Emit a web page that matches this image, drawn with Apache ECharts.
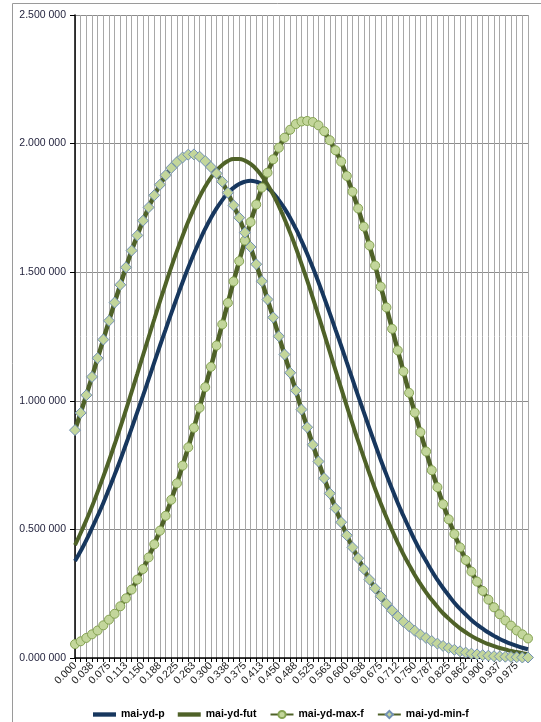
<!DOCTYPE html>
<html>
<head>
<meta charset="utf-8">
<script src="https://cdn.jsdelivr.net/npm/echarts@6/dist/echarts.min.js"></script>
<style>
html,body{margin:0;padding:0;background:#fff;}
#chart{width:541px;height:722px;}
</style>
</head>
<body>
<div id="chart"></div>
<script>
// x categories: 0.000 .. 1.000 step 0.0125 (81 points)
var categories = [];
for (var k = 0; k <= 80; k++) categories.push((k * 0.0125).toFixed(4));

// tick labels shown every 3rd category
var xTickLabels = ['0.000','0.038','0.075','0.113','0.150','0.188','0.225','0.263','0.300','0.338','0.375','0.413','0.450','0.488','0.525','0.563','0.600','0.638','0.675','0.712','0.750','0.787','0.825','0.862','0.900','0.937','0.975'];
var yTickLabels = ['0.000 000','0.500 000','1.000 000','1.500 000','2.000 000','2.500 000'];

var seriesNames = ['mai-yd-p','mai-yd-fut','mai-yd-max-f','mai-yd-min-f'];

var ydP = [0.377,0.416,0.458,0.505,0.553,0.603,0.657,0.713,0.770,0.831,0.893,0.956,1.019,1.084,1.149,1.214,1.277,1.340,1.401,1.461,1.518,1.572,1.622,1.669,1.711,1.748,1.780,1.808,1.828,1.843,1.852,1.856,1.852,1.843,1.828,1.808,1.780,1.748,1.711,1.669,1.622,1.572,1.518,1.461,1.401,1.340,1.277,1.214,1.149,1.084,1.019,0.956,0.893,0.831,0.770,0.713,0.657,0.603,0.553,0.505,0.458,0.416,0.377,0.339,0.304,0.272,0.243,0.215,0.191,0.169,0.148,0.130,0.114,0.099,0.086,0.074,0.064,0.055,0.047,0.040,0.034];

var ydFut = [0.439,0.486,0.536,0.589,0.646,0.705,0.767,0.831,0.897,0.965,1.035,1.105,1.176,1.247,1.317,1.387,1.454,1.520,1.582,1.641,1.697,1.747,1.793,1.833,1.868,1.896,1.917,1.932,1.940,1.940,1.934,1.921,1.901,1.874,1.841,1.802,1.757,1.707,1.653,1.595,1.532,1.468,1.400,1.331,1.261,1.190,1.119,1.049,0.979,0.911,0.844,0.780,0.717,0.657,0.601,0.547,0.496,0.448,0.403,0.362,0.323,0.288,0.255,0.226,0.199,0.174,0.153,0.133,0.115,0.100,0.086,0.074,0.063,0.054,0.046,0.039,0.033,0.027,0.023,0.019,0.016];

var ydMaxF = [0.054,0.065,0.078,0.092,0.107,0.127,0.149,0.172,0.201,0.232,0.266,0.305,0.346,0.391,0.442,0.495,0.553,0.615,0.679,0.748,0.819,0.895,0.973,1.053,1.132,1.215,1.297,1.381,1.464,1.543,1.623,1.695,1.763,1.829,1.887,1.939,1.984,2.023,2.054,2.076,2.086,2.088,2.084,2.071,2.048,2.013,1.974,1.930,1.874,1.813,1.748,1.677,1.604,1.526,1.444,1.363,1.280,1.196,1.114,1.031,0.954,0.878,0.803,0.730,0.664,0.598,0.539,0.482,0.430,0.381,0.336,0.297,0.261,0.227,0.197,0.170,0.146,0.126,0.107,0.092,0.076];

var ydMinF = [0.886,0.953,1.022,1.093,1.166,1.238,1.311,1.382,1.451,1.519,1.584,1.643,1.700,1.752,1.799,1.840,1.877,1.905,1.928,1.946,1.957,1.958,1.949,1.932,1.909,1.884,1.852,1.809,1.760,1.712,1.654,1.598,1.531,1.465,1.394,1.324,1.251,1.180,1.109,1.040,0.966,0.897,0.829,0.764,0.699,0.640,0.582,0.528,0.477,0.430,0.388,0.346,0.305,0.271,0.240,0.211,0.185,0.162,0.141,0.123,0.106,0.091,0.078,0.066,0.056,0.047,0.039,0.032,0.026,0.021,0.017,0.014,0.011,0.009,0.007,0.006,0.005,0.004,0.003,0.002,0.002];

var chart = echarts.init(document.getElementById('chart'), null, {renderer:'canvas'});
var FONT = 'Liberation Sans, Arial, sans-serif';
var lineIcon = 'path://M0,0L100,0L100,19L0,19Z';
var option = {
  backgroundColor: '#ffffff',
  animation: false,
  graphic: [{
    type: 'rect', silent: true, z: -10,
    shape: {x: 12.5, y: 3.5, width: 700, height: 900},
    style: {fill: 'none', stroke: '#9a9a9a', lineWidth: 1}
  }],
  grid: {left: 75, right: 13, top: 15, bottom: 64, containLabel: false},
  legend: {
    top: 704, left: 88,
    itemWidth: 23, itemHeight: 9, itemGap: 13,
    textStyle: {fontFamily: FONT, fontSize: 10.5, fontWeight: 'bold', color: '#000'},
    data: [
      {name: seriesNames[0], icon: lineIcon},
      {name: seriesNames[1], icon: lineIcon},
      {name: seriesNames[2]},
      {name: seriesNames[3]}
    ]
  },
  xAxis: {
    type: 'category', boundaryGap: false, data: categories,
    axisLine: {show: true, lineStyle: {color: '#000', width: 1.5}},
    axisTick: {show: true, interval: 0, length: 4, lineStyle: {color: '#000'}},
    axisLabel: {
      interval: 2, rotate: 45, margin: 6,
      fontFamily: FONT, fontSize: 10.5, color: '#1a1a1a',
      formatter: function (v, i) { return xTickLabels[Math.round(i / 3)] || ''; }
    },
    splitLine: {show: true, interval: 0, lineStyle: {color: '#a8a8a8', width: 1}}
  },
  yAxis: {
    type: 'value', min: 0, max: 2.5, interval: 0.5,
    axisLine: {show: true, lineStyle: {color: '#000', width: 1.5}},
    axisTick: {show: true, length: 5, lineStyle: {color: '#000'}},
    axisLabel: {
      margin: 9, fontFamily: FONT, fontSize: 10.5, color: '#1f1f3a',
      formatter: function (v) { return yTickLabels[Math.round(v / 0.5)]; }
    },
    splitLine: {show: true, lineStyle: {color: '#8c8c8c', width: 1}}
  },
  series: [
    {name: seriesNames[0], type: 'line', data: ydP, smooth: true, symbol: 'none',
     lineStyle: {color: '#17375E', width: 4}, itemStyle: {color: '#17375E'}},
    {name: seriesNames[1], type: 'line', data: ydFut, smooth: true, symbol: 'none',
     lineStyle: {color: '#4F6228', width: 4}, itemStyle: {color: '#4F6228'}},
    {name: seriesNames[2], type: 'line', data: ydMaxF, symbol: 'circle', symbolSize: 9, showAllSymbol: true,
     lineStyle: {color: '#4F6228', width: 4.5},
     itemStyle: {color: '#C3D69B', borderColor: '#86A453', borderWidth: 1}},
    {name: seriesNames[3], type: 'line', data: ydMinF, symbol: 'diamond', symbolSize: 11, showAllSymbol: true,
     lineStyle: {color: '#4F6228', width: 4.5},
     itemStyle: {color: '#C3D69B', borderColor: '#7190B4', borderWidth: 1}}
  ]
};
chart.setOption(option);
</script>
</body>
</html>
